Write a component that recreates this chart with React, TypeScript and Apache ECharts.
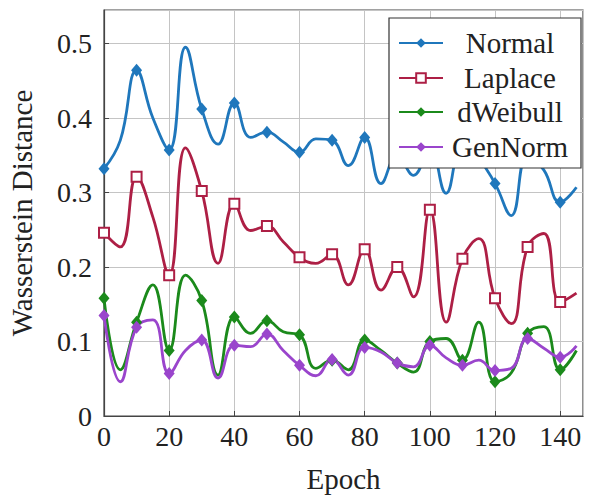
import React, { useEffect, useRef } from "react";
import * as echarts from "echarts";

const epochs = [0, 5, 10, 15, 20, 25, 30, 35, 40, 45, 50, 55, 60, 65, 70, 75, 80, 85, 90, 95, 100, 105, 110, 115, 120, 125, 130, 135, 140, 145];
const normal = [0.332, 0.37, 0.464, 0.4, 0.357, 0.495, 0.412, 0.365, 0.42, 0.374, 0.381, 0.368, 0.354, 0.372, 0.37, 0.336, 0.374, 0.312, 0.35, 0.323, 0.36, 0.299, 0.36, 0.345, 0.312, 0.269, 0.35, 0.33, 0.287, 0.307];
const laplace = [0.246, 0.227, 0.321, 0.267, 0.189, 0.36, 0.302, 0.205, 0.285, 0.249, 0.255, 0.234, 0.213, 0.205, 0.217, 0.176, 0.224, 0.169, 0.2, 0.16, 0.277, 0.126, 0.211, 0.238, 0.158, 0.124, 0.227, 0.245, 0.153, 0.165];
const dweibull = [0.158, 0.062, 0.126, 0.176, 0.088, 0.189, 0.155, 0.055, 0.133, 0.111, 0.128, 0.113, 0.109, 0.064, 0.075, 0.062, 0.102, 0.088, 0.071, 0.059, 0.1, 0.104, 0.075, 0.126, 0.046, 0.058, 0.111, 0.12, 0.062, 0.088];
const gennorm = [0.135, 0.046, 0.119, 0.129, 0.057, 0.088, 0.102, 0.051, 0.095, 0.093, 0.11, 0.088, 0.068, 0.054, 0.076, 0.055, 0.092, 0.086, 0.071, 0.066, 0.095, 0.078, 0.068, 0.075, 0.061, 0.064, 0.104, 0.091, 0.079, 0.094];

const seriesNames = ["Normal", "Laplace", "dWeibull", "GenNorm"];
const seriesValues = [normal, laplace, dweibull, gennorm];
const colors = ["#1f77bc", "#ad1f45", "#1b8a1b", "#9a45cc"];
const symbols = ["diamond", "emptyRect", "diamond", "diamond"];

const FONT = "Liberation Serif";

export default function App() {
  const ref = useRef<HTMLDivElement>(null);
  useEffect(() => {
    if (!ref.current) return;
    const chart = echarts.init(ref.current, null, { renderer: "svg" });
    const series = seriesNames.map((name, i) => ({
      name,
      type: "line",
      smooth: 0.45,
      data: epochs.map((e, j) => [e, seriesValues[i][j]]),
      symbol: symbols[i],
      symbolSize: (_v: any, p: any) =>
        p && p.dataIndex % 2 === 1 ? 0 : symbols[i] === "emptyRect" ? 10 : [11, 13],
      showSymbol: true,
      lineStyle: { color: colors[i], width: 2.8 },
      itemStyle: {
        color: colors[i],
        borderColor: colors[i],
        borderWidth: symbols[i] === "emptyRect" ? 2 : 0,
      },
    }));
    const legendCenters = [43, 78, 112, 147];
    const legends = seriesNames.map((name, i) => ({
      orient: "vertical",
      left: 398,
      top: legendCenters[i] - 15,
      padding: 0,
      itemGap: 0,
      itemWidth: 44,
      itemHeight: 12,
      z: 5,
      data: [name],
      formatter: (n: string) => `{c|${n}}`,
      textStyle: {
        fontFamily: FONT,
        fontSize: 29,
        lineHeight: 30,
        color: "#222",
        rich: { c: { width: 124, align: "center", fontFamily: FONT, fontSize: 29, lineHeight: 30, color: "#222" } },
      },
    }));
    chart.setOption({
      animation: false,
      backgroundColor: "#ffffff",
      grid: {
        left: 104,
        top: 10,
        right: 7,
        bottom: 80,
        show: true,
        borderColor: "#444",
        borderWidth: 1.2,
        containLabel: false,
        outerBoundsMode: "none",
      },
      xAxis: {
        type: "value",
        min: 0,
        max: 147,
        interval: 20,
        name: "Epoch",
        nameLocation: "middle",
        nameGap: 48,
        nameTextStyle: { fontFamily: FONT, fontSize: 29, color: "#222" },
        axisLine: { show: true, lineStyle: { color: "#444", width: 1.2 } },
        axisTick: { show: true, inside: true, length: 5, lineStyle: { color: "#444" } },
        axisLabel: { fontFamily: FONT, fontSize: 28, color: "#222", margin: 6, showMaxLabel: false },
        splitLine: { show: true, lineStyle: { color: "#c4c4c4", width: 1 } },
      },
      yAxis: {
        type: "value",
        min: 0,
        max: 0.545,
        interval: 0.1,
        name: "Wasserstein Distance",
        nameLocation: "middle",
        nameGap: 68,
        nameTextStyle: { fontFamily: FONT, fontSize: 29, color: "#222" },
        axisLine: { show: true, lineStyle: { color: "#444", width: 1.2 } },
        axisTick: { show: true, inside: true, length: 5, lineStyle: { color: "#444" } },
        axisLabel: {
          fontFamily: FONT,
          fontSize: 28,
          color: "#222",
          margin: 12,
          showMaxLabel: false,
          formatter: (v: number) => (v === 0 ? "0" : v.toFixed(1)),
        },
        splitLine: { show: true, lineStyle: { color: "#c4c4c4", width: 1 } },
      },
      graphic: [
        {
          type: "rect",
          z: 4,
          shape: { x: 389, y: 18, width: 192, height: 150 },
          style: { fill: "#ffffff", stroke: "#333", lineWidth: 1.2 },
        },
      ],
      legend: legends,
      series,
    });
    return () => chart.dispose();
  }, []);
  return <div ref={ref} style={{ position: "absolute", left: 0, top: 0, width: 590, height: 496 }} />;
}
